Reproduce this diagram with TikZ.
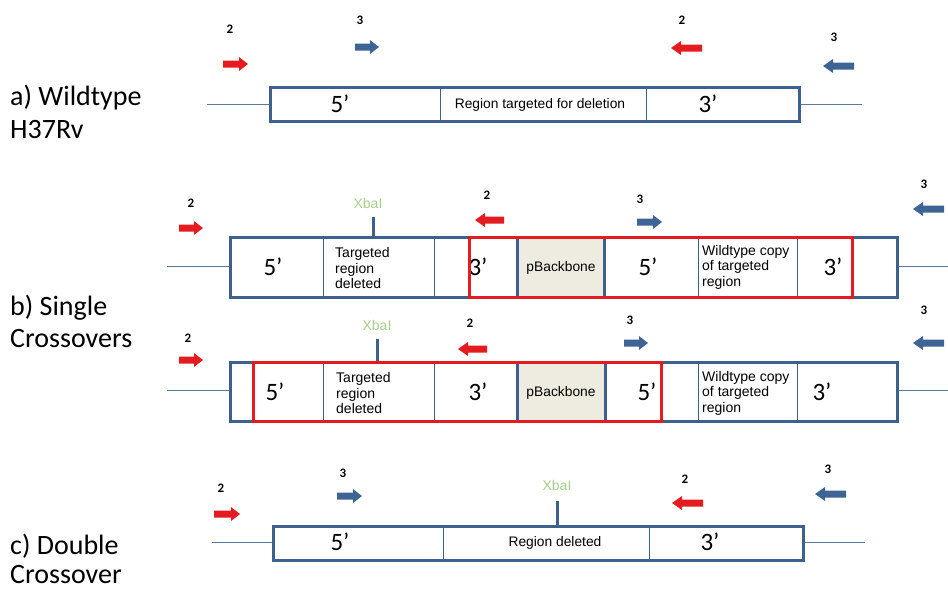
\documentclass[tikz,border=0pt]{standalone}
\usepackage{fontspec}
\setmainfont{Carlito}
\newfontfamily\arialf{Liberation Sans}
\definecolor{bxblue}{RGB}{62,96,140}
\definecolor{arblue}{RGB}{62,100,150}
\definecolor{prred}{RGB}{228,28,32}
\definecolor{xgreen}{RGB}{168,206,138}
\definecolor{bbfill}{RGB}{238,236,225}
\newcommand{\fwdprimer}[4]{\fill[#4] (#1,#3-3.5) -- (#2-9,#3-3.5) -- (#2-9,#3-7) -- (#2,#3) -- (#2-9,#3+7) -- (#2-9,#3+3.5) -- (#1,#3+3.5) -- cycle;}
\newcommand{\revprimer}[4]{\fill[#4] (#2,#3-3.5) -- (#1+10,#3-3.5) -- (#1+10,#3-7) -- (#1,#3) -- (#1+10,#3+7) -- (#1+10,#3+3.5) -- (#2,#3+3.5) -- cycle;}
\tikzset{
 outer/.style={draw=bxblue,line width=3pt},
 redbox/.style={draw=prred,line width=3pt},
 divline/.style={draw=bxblue,line width=0.8pt},
 thickdiv/.style={draw=bxblue,line width=3pt},
 flank/.style={draw=bxblue!85,line width=0.8pt},
 tick/.style={draw=bxblue,line width=3pt},
 prime/.style={font=\fontsize{25}{25}\selectfont, inner sep=0},
 celltxt/.style={font=\arialf\fontsize{14}{15.5}\selectfont, align=left, anchor=west, inner sep=0},
 cellc/.style={font=\arialf\fontsize{13.8}{15.5}\selectfont, inner sep=0},
 plab/.style={font=\bfseries\fontsize{13}{13}\selectfont, inner sep=0},
 xba/.style={font=\arialf\fontsize{14}{14}\selectfont, text=xgreen, inner sep=0},
 side/.style={font=\fontsize{28}{28}\selectfont, anchor=base west, inner sep=0},
}
\begin{document}
\begin{tikzpicture}[x=1pt,y=-1pt]
\useasboundingbox (0,0) rectangle (948,590);
% ---------- labels ----------
\node[side] (la1) at (10,105) {a) Wildtype};
\node[side] (la2) at (10,138) {H37Rv};
\node[side] (lb1) at (10,315) {b) Single};
\node[side] (lb2) at (10,347) {Crossovers};
\node[side] (lc1) at (10,554) {c) Double};
\node[side] (lc2) at (10,583) {Crossover};
% ---------- row a ----------
\draw[flank] (207,104) -- (270,104);
\draw[flank] (799,104) -- (862,104);
\draw[outer] (270,87) rectangle (799,121);
\draw[divline] (440,87) -- (440,121);
\draw[divline] (646,87) -- (646,121);
\node[prime] (a5) at (340,104) {5’};
\node[cellc] (areg) at (540,105) {Region targeted for deletion};
\node[prime] (a3) at (708,104) {3’};
\fwdprimer{223}{248}{64}{prred}
\node[plab] (pa1) at (230,29) {2};
\fwdprimer{355}{379}{47}{arblue}
\node[plab] (pa2) at (360,20) {3};
\revprimer{671}{702}{48}{prred}
\node[plab] (pa3) at (682,20) {2};
\revprimer{823}{854}{66}{arblue}
\node[plab] (pa4) at (834,37) {3};
% ---------- row b1 ----------
\draw[flank] (167,266) -- (230,266);
\draw[flank] (897,266) -- (948,266);
\fill[bbfill] (517,237) rectangle (604,297);
\draw[outer] (230,237) rectangle (897,297);
\draw[divline] (323,237) -- (323,297);
\draw[divline] (434,237) -- (434,297);
\draw[divline] (698,237) -- (698,297);
\draw[divline] (797,237) -- (797,297);
\draw[thickdiv] (517,237) -- (517,297);
\draw[thickdiv] (604,237) -- (604,297);
\draw[tick] (373,217) -- (373,237);
\node[xba] (bx1) at (368,203) {XbaI};
\node[prime] (b15a) at (273,267) {5’};
\node[celltxt] (b1t) at (335,268) {Targeted\\region\\deleted};
\node[prime] (b13a) at (478,267) {3’};
\node[cellc] (b1p) at (561,268) {pBackbone};
\node[prime] (b15b) at (648,267) {5’};
\node[celltxt] (b1w) at (702,267) {Wildtype copy\\of targeted\\region};
\node[prime] (b13b) at (833,267) {3’};
\draw[redbox] (469,237) rectangle (852,297);
\fwdprimer{179}{203}{228}{prred}
\node[plab] (pb1) at (191,203) {2};
\revprimer{475}{504}{220}{prred}
\node[plab] (pb2) at (487,195) {2};
\fwdprimer{637}{662}{222}{arblue}
\node[plab] (pb3) at (640,199) {3};
\revprimer{913}{944}{209}{arblue}
\node[plab] (pb4) at (924,184) {3};
% ---------- row b2 ----------
\draw[flank] (167,390) -- (230,390);
\draw[flank] (897,390) -- (948,390);
\fill[bbfill] (517,362) rectangle (605,421);
\draw[outer] (230,362) rectangle (897,421);
\draw[divline] (323,362) -- (323,421);
\draw[divline] (434,362) -- (434,421);
\draw[divline] (698,362) -- (698,421);
\draw[divline] (797,362) -- (797,421);
\draw[thickdiv] (517,362) -- (517,421);
\draw[thickdiv] (605,362) -- (605,421);
\draw[tick] (377,339) -- (377,362);
\node[xba] (bx2) at (377,325) {XbaI};
\node[prime] (b25a) at (275,392) {5’};
\node[celltxt] (b2t) at (336,393) {Targeted\\region\\deleted};
\node[prime] (b23a) at (478,392) {3’};
\node[cellc] (b2p) at (561,393) {pBackbone};
\node[prime] (b25b) at (647,392) {5’};
\node[celltxt] (b2w) at (702,393) {Wildtype copy\\of targeted\\region};
\node[prime] (b23b) at (822,392) {3’};
\draw[redbox] (253,362) rectangle (661,421);
\fwdprimer{179}{203}{360}{prred}
\node[plab] (pc1) at (188,338) {2};
\revprimer{458}{487}{349}{prred}
\node[plab] (pc2) at (470,323) {2};
\fwdprimer{624}{648}{343}{arblue}
\node[plab] (pc3) at (630,320) {3};
\revprimer{913}{944}{343}{arblue}
\node[plab] (pc4) at (924,310) {3};
% ---------- row c ----------
\draw[flank] (212,542) -- (273,542);
\draw[flank] (803,542) -- (865,542);
\draw[outer] (273,526) rectangle (803,560);
\draw[divline] (443,526) -- (443,560);
\draw[divline] (649,526) -- (649,560);
\draw[tick] (557,501) -- (557,526);
\node[xba] (cx) at (557,485) {XbaI};
\node[prime] (c5) at (340,542) {5’};
\node[cellc] (creg) at (555,543) {Region deleted};
\node[prime] (c3) at (710,542) {3’};
\fwdprimer{214}{240}{514}{prred}
\node[plab] (pd1) at (221,488) {2};
\fwdprimer{337}{362}{496}{arblue}
\node[plab] (pd2) at (343,473) {3};
\revprimer{672}{703}{503}{prred}
\node[plab] (pd3) at (685,479) {2};
\revprimer{815}{846}{494}{arblue}
\node[plab] (pd4) at (828,469) {3};
\end{tikzpicture}
\end{document}
